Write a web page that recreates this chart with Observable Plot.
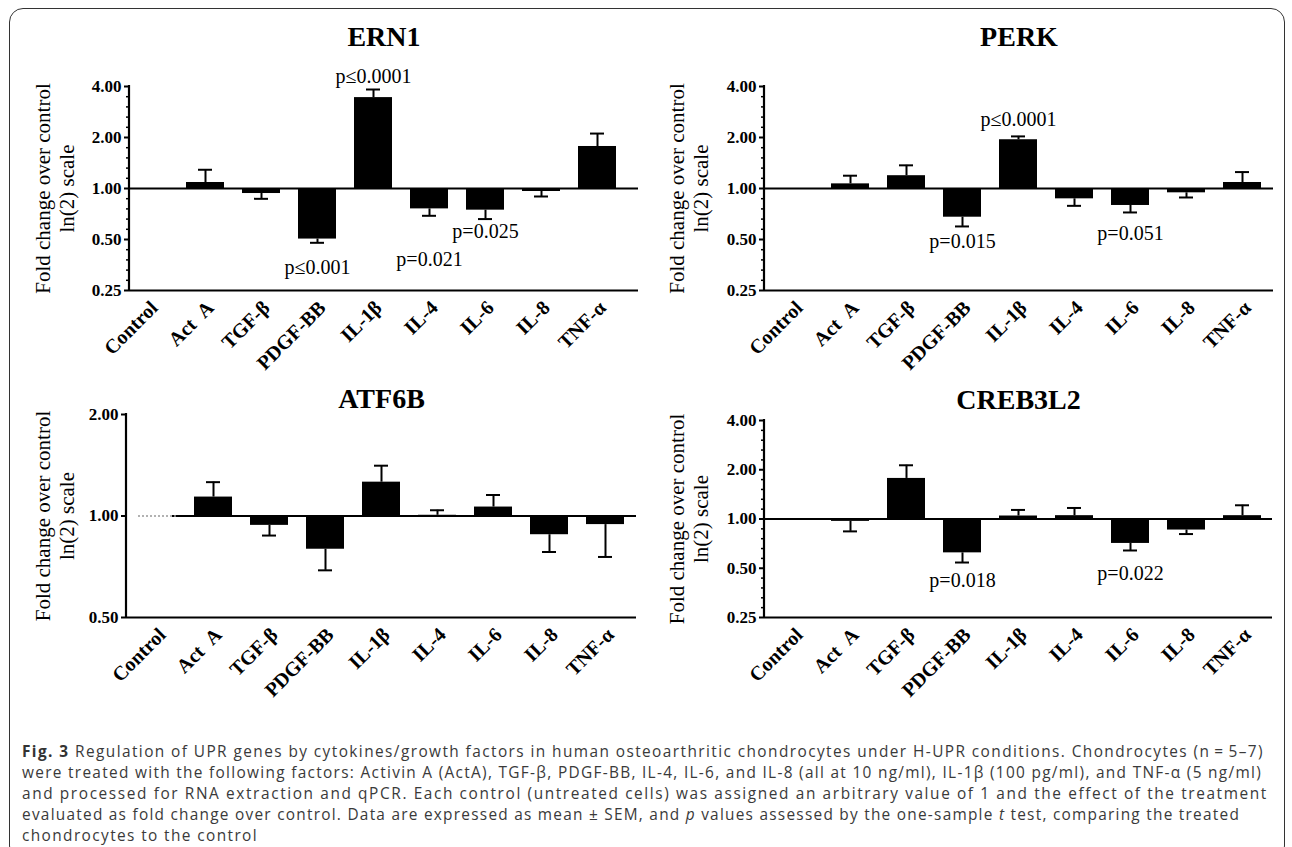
<!DOCTYPE html>
<html><head><meta charset="utf-8">
<script src="https://cdn.jsdelivr.net/npm/d3@7"></script>
<script src="https://cdn.jsdelivr.net/npm/@observablehq/plot@0.6"></script>
<style>
body{margin:0;background:#fff;}
#wrap{position:relative;width:1292px;height:847px;overflow:hidden;background:#fff;}
#box{position:absolute;left:9px;top:8px;width:1276px;height:852px;border:1.6px solid #333;border-radius:14px;box-sizing:border-box;}
.panel{position:absolute;}
#caption{position:absolute;left:22px;top:741px;font-family:"Open Sans";font-size:15.4px;color:#3a3a3a;white-space:nowrap;line-height:21px;}
#caption div{height:21px;}
#caption b{color:#333;}
</style></head>
<body><div id="wrap"><div id="box"></div><div id="caption"></div></div>
<script>
const categories = ["Control", "Act\u2002A", "TGF-β", "PDGF-BB", "IL-1β", "IL-4", "IL-6", "IL-8", "TNF-α"];
const baseline = 1;

// ERN1
const ern1Mean = [null, 1.085, 0.934, 0.503, 3.44, 0.758, 0.745, 0.96, 1.77];
const ern1Err  = [null, 1.29, 0.869, 0.478, 3.84, 0.69, 0.66, 0.897, 2.11];
const ern1PCat = ["IL-1β", "PDGF-BB", "IL-4", "IL-6"];
const ern1PText = ["p≤0.0001", "p≤0.001", "p=0.021", "p=0.025"];
const ern1PY = [4.56, 0.342, 0.378, 0.557];

// PERK
const perkMean = [null, 1.065, 1.19, 0.677, 1.94, 0.869, 0.794, 0.943, 1.085];
const perkErr  = [null, 1.19, 1.37, 0.597, 2.03, 0.79, 0.722, 0.885, 1.25];
const perkPCat = ["IL-1β", "PDGF-BB", "IL-6"];
const perkPText = ["p≤0.0001", "p=0.015", "p=0.051"];
const perkPY = [2.54, 0.485, 0.545];

// ATF6B
const atf6bMean = [null, 1.138, 0.938, 0.797, 1.26, 1.005, 1.063, 0.88, 0.943];
const atf6bErr  = [null, 1.26, 0.875, 0.69, 1.41, 1.04, 1.154, 0.782, 0.756];
const atf6bPCat = [];
const atf6bPText = [];
const atf6bPY = [];

// CREB3L2
const crebMean = [null, 0.967, 1.77, 0.621, 1.043, 1.048, 0.709, 0.856, 1.048];
const crebErr  = [null, 0.84, 2.13, 0.542, 1.136, 1.168, 0.642, 0.809, 1.213];
const crebPCat = ["PDGF-BB", "IL-6"];
const crebPText = ["p=0.018", "p=0.022"];
const crebPY = [0.418, 0.466];

const ticksWide = [0.25, 0.5, 1, 2, 4];
const ticksNarrow = [0.5, 1, 2];
const yTitle = "Fold change over control\nln(2) scale";

function minorTicks(lo, hi) {
  const out = [];
  for (let k = Math.log2(lo); k < Math.log2(hi); k++)
    for (let j = 1; j <= 4; j++) out.push(Math.pow(2, k + j / 5));
  return out;
}

function panel(cfg) {
  const rows = categories.map((c, i) => ({cat: c, mean: cfg.mean[i], err: cfg.err[i]})).filter(d => d.mean != null);
  const pRows = cfg.pCat.map((c, i) => ({cat: c, label: cfg.pText[i], y: cfg.pY[i]}));
  const fam = "Liberation Serif, Times New Roman, serif";
  const marks = [
    Plot.barY(rows, {x: "cat", y1: () => baseline, y2: "mean", fill: "black"}),
    Plot.ruleX(rows, {x: "cat", y1: "mean", y2: "err", stroke: "black", strokeWidth: 2}),
    Plot.tickY(rows, {x: "cat", y: "err", stroke: "black", strokeWidth: 2, insetLeft: 12, insetRight: 12}),
    Plot.ruleY([baseline], {stroke: "black", strokeWidth: 2, insetLeft: cfg.ruleInset || 0}),
    Plot.ruleY([cfg.domain[0]], {stroke: "black", strokeWidth: 2.2}),
    Plot.axisY(cfg.ticks, {tickFormat: d => d.toFixed(2), fontSize: 17, fontWeight: "bold", tickSize: 5, tickPadding: 3, strokeWidth: 2, label: null}),
    Plot.axisX({tickRotate: -45, tickSize: 0, tickPadding: 14, dx: 5, fontSize: 20, fontWeight: "bold", label: null}),
    Plot.text([cfg.title], {frameAnchor: "top", dy: cfg.titleDy, fontSize: 28, fontWeight: "bold", lineAnchor: "middle"}),
    Plot.text([yTitle], {frameAnchor: "left", rotate: -90, dx: cfg.labelDx, fontSize: 21, lineHeight: 1.15, textAnchor: "middle", lineAnchor: "middle"}),
    Plot.text(pRows, {x: "cat", y: "y", text: "label", fontSize: 20, lineAnchor: "middle"})
  ];
  if (cfg.minor) marks.push(Plot.axisY(minorTicks(cfg.domain[0], cfg.domain[1]), {tickFormat: () => "", tickSize: 3, strokeWidth: 1.5, label: null}));
  if (cfg.dotted) marks.push(Plot.tickY(["Control"], {x: d => d, y: () => baseline, stroke: "#999", strokeWidth: 1.5, strokeDasharray: "2,2"}));
  const xOpts = {type: "band", domain: categories, paddingInner: 0.32, paddingOuter: 0.16};
  if (cfg.xRange) xOpts.range = cfg.xRange;
  const plot = Plot.plot({
    width: cfg.width, height: cfg.height,
    marginTop: cfg.m[0], marginRight: cfg.m[1], marginBottom: cfg.m[2], marginLeft: cfg.m[3],
    x: xOpts,
    y: {type: "log", base: 2, domain: cfg.domain},
    style: {fontFamily: fam, color: "black", background: "transparent", overflow: "visible"},
    marks
  });
  d3.select(plot).append("line")
    .attr("x1", cfg.m[3]).attr("x2", cfg.m[3])
    .attr("y1", cfg.m[0] - 1).attr("y2", cfg.height - cfg.m[2] + 1)
    .attr("stroke", "black").attr("stroke-width", 2.2);
  const div = document.createElement("div");
  div.className = "panel";
  div.style.left = cfg.left + "px";
  div.style.top = cfg.top + "px";
  div.appendChild(plot);
  document.getElementById("wrap").appendChild(div);
}

panel({title: "ERN1", left: 0, top: 0, width: 646, height: 360, m: [86, 8, 70, 129],
  domain: [0.25, 4], ticks: ticksWide, minor: true, titleDy: -49, labelDx: -75, xRange: [118, 628],
  mean: ern1Mean, err: ern1Err, pCat: ern1PCat, pText: ern1PText, pY: ern1PY});
panel({title: "PERK", left: 646, top: 0, width: 646, height: 360, m: [86, 19, 70, 118],
  domain: [0.25, 4], ticks: ticksWide, minor: true, titleDy: -49, labelDx: -76,
  mean: perkMean, err: perkErr, pCat: perkPCat, pText: perkPText, pY: perkPY});
panel({title: "ATF6B", left: 0, top: 360, width: 646, height: 360, m: [54, 10, 103, 126],
  domain: [0.5, 2], ticks: ticksNarrow, minor: false, titleDy: -15, labelDx: -72, ruleInset: 46, dotted: true,
  mean: atf6bMean, err: atf6bErr, pCat: atf6bPCat, pText: atf6bPText, pY: atf6bPY});
panel({title: "CREB3L2", left: 646, top: 360, width: 646, height: 360, m: [60, 20, 103, 118],
  domain: [0.25, 4], ticks: ticksWide, minor: true, titleDy: -20, labelDx: -76,
  mean: crebMean, err: crebErr, pCat: crebPCat, pText: crebPText, pY: crebPY});

const captionLines = [
  "<b>Fig. 3</b> Regulation of UPR genes by cytokines/growth factors in human osteoarthritic chondrocytes under H-UPR conditions. Chondrocytes (n\u2009=\u20095–7)",
  "were treated with the following factors: Activin A (ActA), TGF-β, PDGF-BB, IL-4, IL-6, and IL-8 (all at 10 ng/ml), IL-1β (100 pg/ml), and TNF-α (5 ng/ml)",
  "and processed for RNA extraction and qPCR. Each control (untreated cells) was assigned an arbitrary value of 1 and the effect of the treatment",
  "evaluated as fold change over control. Data are expressed as mean ± SEM, and <i>p</i> values assessed by the one-sample <i>t</i> test, comparing the treated",
  "chondrocytes to the control"
];
const captionWidths = [1242, 1240, 1246, 1218, null];
const cap = document.getElementById("caption");
cap.innerHTML = captionLines.map(l => `<div><span>${l}</span></div>`).join("");
const spans = cap.querySelectorAll("span");
let spacingSum = 0, spacingN = 0;
spans.forEach((s, i) => {
  if (captionWidths[i] == null) return;
  const w = s.getBoundingClientRect().width;
  const n = s.textContent.length;
  const ls = (captionWidths[i] - w) / n;
  s.style.letterSpacing = ls.toFixed(3) + "px";
  spacingSum += ls; spacingN++;
});
spans[4].style.letterSpacing = (spacingSum / spacingN).toFixed(3) + "px";
</script>
</body></html>
